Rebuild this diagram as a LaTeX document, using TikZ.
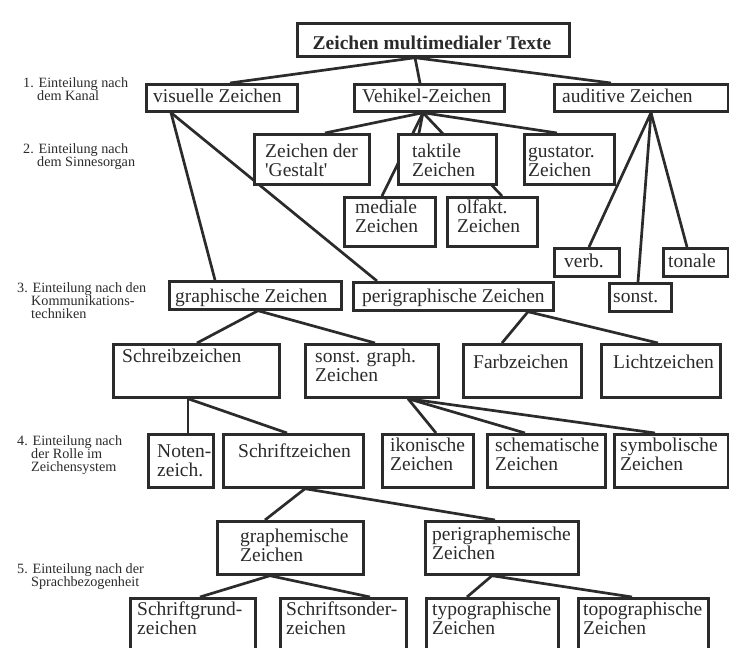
\documentclass[tikz,border=0pt]{standalone}
\usepackage{fontspec}
\setmainfont{Liberation Serif}
\usetikzlibrary{calc,backgrounds}

\definecolor{ink}{HTML}{2B2B2B}

% fonts for the boxes and for the level captions on the left
\newcommand{\boxfont}{\fontsize{19.5pt}{19.5pt}\selectfont\lineskiplimit=-\maxdimen}
\newcommand{\lvlfont}{\fontsize{14.2pt}{13pt}\selectfont\lineskiplimit=-\maxdimen}

% stacked lines, baseline = first line
\newcommand{\twol}[2]{\vtop{\hbox{#1}\hbox{#2}}}
\newcommand{\threel}[3]{\vtop{\hbox{#1}\hbox{#2}\hbox{#3}}}

% box: name, x1, y1, x2, y2 (y counted downwards)
\newcommand{\bx}[5]{\node[box, minimum width={#4pt-#2pt}, minimum height={#5pt-#3pt}] (#1) at (#2,#3) {};}
% connector from parent bottom at x=#2 to child top at x=#4
\newcommand{\lk}[4]{\draw[link] (#2,0 |- #1.south) -- (#4,0 |- #3.north);}

\tikzset{
  box/.style={draw=ink, line width=2.7pt, fill=white, rectangle, inner sep=0pt, anchor=north west},
  lbl/.style={anchor=base west, inner sep=0pt, text=ink, font=\boxfont},
  lvl/.style={anchor=base west, inner sep=0pt, text=ink, font=\lvlfont},
  link/.style={draw=ink, line width=2.7pt},
}

\begin{document}
\begin{tikzpicture}[x=1pt, y=-1pt]
\useasboundingbox (0,0) rectangle (729,648);
\clip (0,0) rectangle (729,648);

% ---- boxes ----
\bx{title}{296}{22}{568}{55}
\bx{vis}{145}{83}{296}{110}
\bx{veh}{353}{83}{503}{110}
\bx{aud}{553}{83}{727}{110}
\bx{ges}{253}{133}{368}{183}
\bx{tak}{397}{133}{495}{183}
\bx{gus}{523}{133}{613}{183}
\bx{med}{343}{196}{434}{245}
\bx{olf}{446}{196}{536}{245}
\bx{verb}{553}{247}{618}{275}
\bx{ton}{662}{247}{727}{275}
\bx{son}{608}{282}{670}{310}
\bx{gra}{168}{280}{340}{308}
\bx{peri}{352}{281}{552}{309}
\bx{schr}{112}{343}{278}{396}
\bx{sgr}{304}{343}{437}{396}
\bx{farb}{462}{343}{580}{396}
\bx{licht}{600}{343}{719}{396}
\bx{note}{147}{433}{212}{486}
\bx{schz}{222}{433}{362}{486}
\bx{iko}{381}{433}{472}{486}
\bx{sche}{486}{433}{604}{486}
\bx{sym}{613}{433}{727}{486}
\bx{grm}{216}{520}{362}{573}
\bx{pgrm}{424}{520}{577}{573}
\bx{sgz}{129}{597}{254}{670}
\bx{ssz}{279}{597}{405}{670}
\bx{typ}{425}{597}{557}{670}
\bx{topo}{577}{597}{707}{670}

% ---- texts in the boxes ----
\node[lbl, anchor=base, font=\boxfont\bfseries] (title-t) at (432,49) {Zeichen multimedialer Texte};
\node[lbl] (vis-t) at (153,102) {visuelle Zeichen};
\node[lbl] (veh-t) at (362,102) {Vehikel-Zeichen};
\node[lbl] (aud-t) at (562,102) {auditive Zeichen};
\node[lbl] (ges-t) at (265,157) {\twol{Zeichen der}{\textquotesingle Gestalt\textquotesingle}};
\node[lbl] (tak-t) at (412,157) {\twol{taktile}{Zeichen}};
\node[lbl] (gus-t) at (528,157) {\twol{gustator.}{Zeichen}};
\node[lbl] (med-t) at (355,213) {\twol{mediale}{Zeichen}};
\node[lbl] (olf-t) at (457,213) {\twol{olfakt.}{Zeichen}};
\node[lbl] (verb-t) at (564,267) {verb.};
\node[lbl] (ton-t) at (668,267) {tonale};
\node[lbl] (son-t) at (613,302) {sonst.};
\node[lbl] (gra-t) at (175,302) {graphische Zeichen};
\node[lbl] (peri-t) at (362,302) {perigraphische Zeichen};
\node[lbl] (schr-t) at (122,362) {Schreibzeichen};
\node[lbl] (sgr-t) at (315,362) {\twol{sonst. graph.}{Zeichen}};
\node[lbl] (farb-t) at (473,368) {Farbzeichen};
\node[lbl] (licht-t) at (613,368) {Lichtzeichen};
\node[lbl] (note-t) at (157,457) {\twol{Noten-}{zeich.}};
\node[lbl] (schz-t) at (238,457) {Schriftzeichen};
\node[lbl] (iko-t) at (390,451) {\twol{ikonische}{Zeichen}};
\node[lbl] (sche-t) at (495,451) {\twol{schematische}{Zeichen}};
\node[lbl] (sym-t) at (620,451) {\twol{symbolische}{Zeichen}};
\node[lbl] (grm-t) at (240,542) {\twol{graphemische}{Zeichen}};
\node[lbl] (pgrm-t) at (432,540) {\twol{perigraphemische}{Zeichen}};
\node[lbl] (sgz-t) at (137,615) {\twol{Schriftgrund-}{zeichen}};
\node[lbl] (ssz-t) at (286,615) {\twol{Schriftsonder-}{zeichen}};
\node[lbl] (typ-t) at (432,615) {\twol{typographische}{Zeichen}};
\node[lbl] (topo-t) at (583,615) {\twol{topographische}{Zeichen}};

% ---- level captions ----
\node[lvl] (lv1) at (23,87) {\twol{1. Einteilung nach}{\kern14pt dem Kanal}};
\node[lvl] (lv2) at (23,153) {\twol{2. Einteilung nach}{\kern14pt dem Sinnesorgan}};
\node[lvl] (lv3) at (17,292) {\threel{3. Einteilung nach den}{\kern14pt Kommunikations-}{\kern14pt techniken}};
\node[lvl] (lv4) at (17,445) {\threel{4. Einteilung nach}{\kern14pt der Rolle im}{\kern14pt Zeichensystem}};
\node[lvl] (lv5) at (17,573) {\twol{5. Einteilung nach der}{\kern14pt Sprachbezogenheit}};

% ---- connectors, behind the boxes ----
\begin{pgfonlayer}{background}
\fill[white] (0,0) rectangle (729,648);
\lk{title}{415}{vis}{230}
\lk{title}{415}{veh}{420}
\lk{title}{415}{aud}{611}
\lk{veh}{423}{ges}{325}
\lk{veh}{423}{med}{382}
\lk{veh}{423}{tak}{419}
\lk{veh}{423}{olf}{502}
\lk{veh}{423}{gus}{557}
\lk{aud}{651}{verb}{589}
\lk{aud}{651}{son}{638}
\lk{aud}{651}{ton}{687}
\lk{vis}{171}{gra}{215}
\lk{vis}{171}{peri}{377}
\lk{gra}{258}{schr}{197}
\lk{gra}{258}{sgr}{375}
\lk{peri}{528}{farb}{502}
\lk{peri}{528}{licht}{658}
\lk{schr}{188}{note}{188}
\lk{schr}{188}{schz}{287}
\lk{sgr}{408}{iko}{436}
\lk{sgr}{408}{sche}{525}
\lk{sgr}{408}{sym}{655}
\lk{schz}{305}{grm}{265}
\lk{schz}{305}{pgrm}{495}
\lk{grm}{270}{sgz}{200}
\lk{grm}{270}{ssz}{370}
\lk{pgrm}{492}{typ}{467}
\lk{pgrm}{492}{topo}{632}
\end{pgfonlayer}
\end{tikzpicture}
\end{document}
